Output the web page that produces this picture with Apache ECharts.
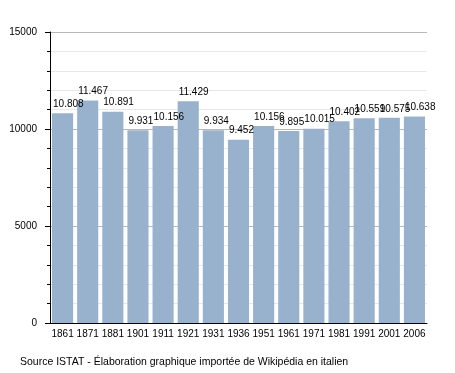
<!DOCTYPE html>
<html><head><meta charset="utf-8">
<script src="https://cdn.jsdelivr.net/npm/echarts@6/dist/echarts.min.js"></script>
<style>html,body{margin:0;padding:0;background:#fff}#c{width:455px;height:373px}</style>
</head><body><div id="c"></div>
<script>
const years = ['1861','1871','1881','1901','1911','1921','1931','1936','1951','1961','1971','1981','1991','2001','2006'];
const population = [10808, 11467, 10891, 9931, 10156, 11429, 9934, 9452, 10156, 9895, 10015, 10402, 10559, 10575, 10638];
const yTicks = [0, 5000, 10000, 15000];
const sourceText = 'Source ISTAT - Élaboration graphique importée de Wikipédia en italien';

function fmt(v){ return String(v).replace(/\B(?=(\d{3})+(?!\d))/g, '.'); }
const FF = 'Liberation Sans, Arial, sans-serif';

const chart = echarts.init(document.getElementById('c'));
chart.setOption({
  animation: false,
  textStyle: { fontFamily: FF },
  grid: { left: 50, right: 28, top: 32, bottom: 50 },
  graphic: [{ type: 'text', left: 20, top: 357, style: { text: sourceText, fontSize: 10.5, fill: '#000', fontFamily: FF } }],
  xAxis: {
    type: 'category', data: years,
    axisLine: { lineStyle: { color: '#000', width: 1 } },
    axisTick: { show: false },
    axisLabel: { color: '#000', fontSize: 10, margin: 6, interval: 0 }
  },
  yAxis: {
    type: 'value', min: yTicks[0], max: yTicks[yTicks.length-1], interval: 5000,
    axisLine: { show: true, lineStyle: { color: '#000', width: 1 } },
    axisTick: { show: true, length: 5, lineStyle: { color: '#000' } },
    minorTick: { show: true, splitNumber: 5, length: 3, lineStyle: { color: '#000' } },
    axisLabel: { color: '#000', fontSize: 10, margin: 13, formatter: v => String(v) },
    splitLine: { show: true, lineStyle: { color: '#b8b8b8' } },
    minorSplitLine: { show: true, lineStyle: { color: '#e8e8e8' } }
  },
  series: [{
    type: 'bar', data: population, barCategoryGap: '16%',
    itemStyle: { color: '#98b1cc' },
    label: { show: true, position: [1, -4], align: 'left', verticalAlign: 'bottom', color: '#000', fontSize: 10, formatter: p => fmt(p.value) }
  }]
});
</script></body></html>
